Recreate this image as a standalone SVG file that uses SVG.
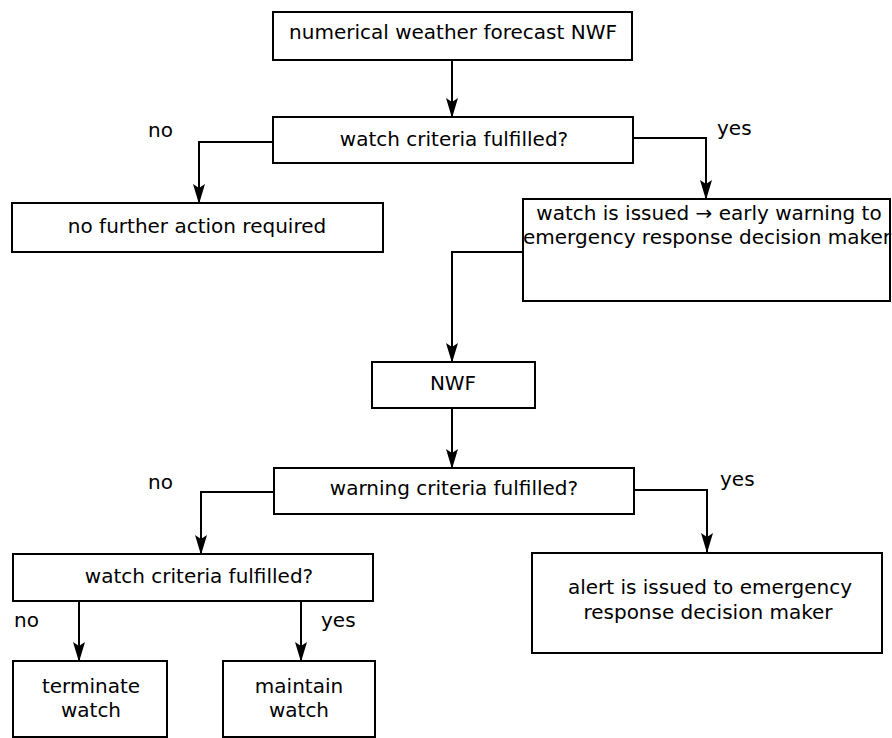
<svg xmlns="http://www.w3.org/2000/svg" width="892" height="738" viewBox="0 0 892 738">
<defs>
<style>
.box{fill:#fff;stroke:#000;stroke-width:2}
.t{font-family:"DejaVu Sans","Liberation Sans",sans-serif;font-size:20px;fill:#000;text-anchor:middle}
.l{font-family:"DejaVu Sans","Liberation Sans",sans-serif;font-size:20px;fill:#000}
.c{fill:none;stroke:#000;stroke-width:2}
</style>
<marker id="ah" markerUnits="userSpaceOnUse" markerWidth="12" markerHeight="20" viewBox="0 0 12 20" refX="6" refY="19" orient="0">
<path d="M0,0 L6,20 L12,0 L6,4 Z" fill="#000"/>
</marker>
</defs>
<rect width="892" height="738" fill="#fff"/>
<g id="connectors">
<path class="c" d="M452,60 V117" marker-end="url(#ah)"/>
<path class="c" d="M273,142 H199 V203" marker-end="url(#ah)"/>
<path class="c" d="M633,138 H706 V199" marker-end="url(#ah)"/>
<path class="c" d="M523,252 H452 V362" marker-end="url(#ah)"/>
<path class="c" d="M452,408 V468" marker-end="url(#ah)"/>
<path class="c" d="M274,492 H201 V554" marker-end="url(#ah)"/>
<path class="c" d="M634,490 H707 V552" marker-end="url(#ah)"/>
<path class="c" d="M79,601 V661" marker-end="url(#ah)"/>
<path class="c" d="M301,601 V661" marker-end="url(#ah)"/>
</g>
<g id="n1"><rect class="box" x="273" y="12" width="359" height="48"/><text class="t" x="453" y="39">numerical weather forecast NWF</text></g>
<g id="n2"><rect class="box" x="273" y="117" width="360" height="46"/><text class="t" x="454" y="146">watch criteria fulfilled?</text></g>
<g id="n3"><rect class="box" x="12" y="203" width="371" height="49"/><text class="t" x="197" y="233">no further action required</text></g>
<g id="n4"><rect class="box" x="523" y="199" width="367" height="102"/><text class="t" x="709" y="220">watch is issued → early warning to</text><text class="t" x="707" y="244">emergency response decision maker</text></g>
<g id="n5"><rect class="box" x="372" y="362" width="163" height="46"/><text class="t" x="453" y="390">NWF</text></g>
<g id="n6"><rect class="box" x="274" y="468" width="360" height="46"/><text class="t" x="454" y="495">warning criteria fulfilled?</text></g>
<g id="n7"><rect class="box" x="13" y="554" width="360" height="47"/><text class="t" x="199" y="583">watch criteria fulfilled?</text></g>
<g id="n8"><rect class="box" x="532" y="553" width="350" height="100"/><text class="t" x="710" y="594">alert is issued to emergency</text><text class="t" x="708" y="619">response decision maker</text></g>
<g id="n9"><rect class="box" x="13" y="661" width="154" height="76"/><text class="t" x="91" y="693">terminate</text><text class="t" x="91" y="717">watch</text></g>
<g id="n10"><rect class="box" x="223" y="661" width="152" height="76"/><text class="t" x="299" y="693">maintain</text><text class="t" x="299" y="717">watch</text></g>
<g id="labels">
<text class="l" x="148" y="137">no</text>
<text class="l" x="717" y="135">yes</text>
<text class="l" x="148" y="489">no</text>
<text class="l" x="720" y="486">yes</text>
<text class="l" x="14" y="627">no</text>
<text class="l" x="321" y="627">yes</text>
</g>
</svg>
